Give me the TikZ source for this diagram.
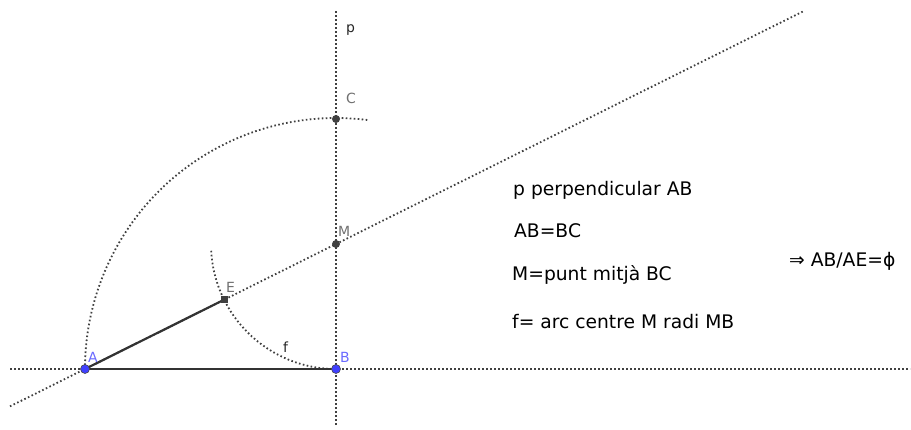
\documentclass[tikz,border=0pt]{standalone}
\usepackage{fontspec}
\setmainfont{DejaVu Sans}
\usetikzlibrary{calc}
\definecolor{dotc}{HTML}{404040}
\definecolor{ptblue}{HTML}{4040FF}
\definecolor{lblblue}{HTML}{6A6AFF}
\definecolor{lblgray}{HTML}{707070}
\tikzset{
  x=1pt, y=1pt,
  dotline/.style={draw=dotc, line width=1.8pt, dash pattern=on 1.6pt off 2.4pt},
  seg/.style={draw=black!80, line width=2.2pt},
  bpt/.style={circle, fill=ptblue, draw=black!70, line width=0.6pt, minimum size=9pt, inner sep=0pt},
  gpt/.style={circle, fill=black!75, minimum size=8pt, inner sep=0pt},
  gsq/.style={rectangle, fill=black!75, minimum size=7pt, inner sep=0pt},
  lbl/.style={anchor=base west, inner sep=0pt, font=\fontsize{14}{16}\selectfont},
  txt/.style={anchor=base west, inner sep=0pt, font=\fontsize{18.7}{22}\selectfont}
}
\begin{document}
\begin{tikzpicture}
\useasboundingbox (0,0) rectangle (911,429);
\coordinate (A) at (85,60);
\coordinate (B) at (336,60);
\coordinate (C) at (336,310);
\coordinate (M) at (336,185);
\coordinate (E) at ($(M)!125pt!(A)$);
\coordinate (H1) at (10,60);
\coordinate (H2) at (910,60);
\coordinate (V1) at (336,4);
\coordinate (V2) at (336,419);
\coordinate (L1) at ($(A)!-75/251!(M)$);
\coordinate (L2) at ($(A)!718/251!(M)$);
% dotted construction lines
\draw[dotline] (H1) -- (H2);
\draw[dotline] (V1) -- (V2);
\draw[dotline] (L1) -- (L2);
\draw[dotline] (A) arc[start angle=180, end angle=82.6, radius=251];
\draw[dotline] (B) arc[start angle=270, end angle=182, radius=125];
% segments
\draw[seg] (A) -- (B);
\draw[seg] (A) -- (E);
% points
\node[gsq] (Ep) at (E) {};
\node[gpt] (Cp) at (C) {};
\node[gpt] (Mp) at (M) {};
\node[bpt] (Ap) at (A) {};
\node[bpt] (Bp) at (B) {};
% labels
\node[lbl, text=lblblue] (lA) at (88,67) {A};
\node[lbl, text=lblblue] (lB) at (340,67) {B};
\node[lbl, text=lblgray] (lC) at (346,325) {C};
\node[lbl, text=lblgray] (lM) at (338,192) {M};
\node[lbl, text=lblgray] (lE) at (226,136) {E};
\node[lbl, text=black!85] (lf) at (283,77) {f};
\node[lbl, text=black!85] (lp) at (346,396) {p};
% text
\node[txt] (t1) at (513,233) {p perpendicular AB};
\node[txt] (t2) at (514,191) {AB=BC};
\node[txt] (t3) at (512,149) {M=punt mitjà BC};
\node[txt] (t4) at (512,101) {f= arc centre M radi MB};
\node[txt] (t5) at (789,162) {⇒ AB/AE=ϕ};
\end{tikzpicture}
\end{document}
